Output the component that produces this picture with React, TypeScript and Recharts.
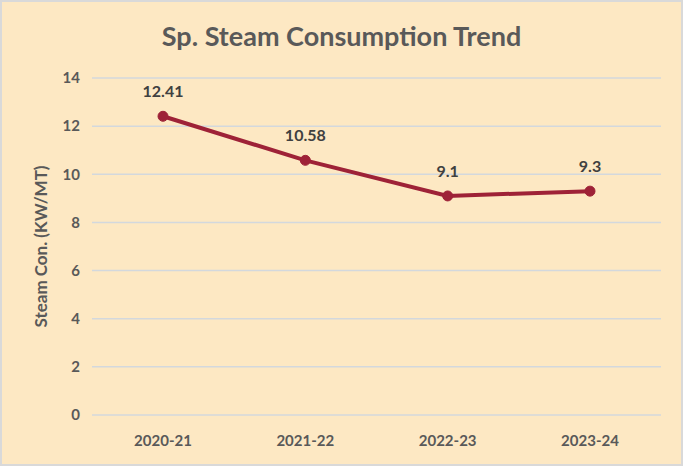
import React from "react";
import { LineChart, Line, XAxis, YAxis, CartesianGrid, LabelList } from "recharts";

// Specific steam consumption per year
const years = ["2020-21", "2021-22", "2022-23", "2023-24"];
const steamCon = [12.41, 10.58, 9.1, 9.3];
const yTicks = [0, 2, 4, 6, 8, 10, 12, 14];

const data = years.map((year, i) => ({ year, value: steamCon[i] }));

const BG = "#fde8c3";
const TEXT = "#595959";
const LINE = "#9e2237";

export default function App() {
  return (
    <div style={{ position: "relative", width: 683, height: 466, background: BG, fontFamily: "Lato, 'Open Sans', sans-serif" }}>
      <style>{"body{margin:0}"}</style>
      <div
        style={{
          position: "absolute",
          top: 19,
          left: 0,
          width: 683,
          textAlign: "center",
          fontSize: 27,
          fontWeight: 700,
          color: TEXT,
        }}
      >
        Sp. Steam Consumption Trend
      </div>
      <LineChart width={683} height={466} data={data} margin={{ top: 78, right: 22, bottom: 0, left: 0 }}>
        <CartesianGrid vertical={false} stroke="#d3d8dd" strokeWidth={1.5} />
        <XAxis
          dataKey="year"
          height={51}
          padding={{ left: 71, right: 71 }}
          axisLine={false}
          tickLine={false}
          tickSize={0}
          tickMargin={20}
          tick={{ fill: TEXT, fontSize: 15, fontWeight: 700 }}
        />
        <YAxis
          width={92}
          domain={[0, 14]}
          ticks={yTicks}
          axisLine={false}
          tickLine={false}
          tickSize={0}
          tickMargin={12}
          tick={{ fill: TEXT, fontSize: 15, fontWeight: 700 }}
          label={{
            value: "Steam Con. (KW/MT)",
            angle: -90,
            position: "insideLeft",
            dx: 36,
            fill: TEXT,
            style: { textAnchor: "middle", fontSize: 17, fontWeight: 700 },
          }}
        />
        <Line
          type="linear"
          dataKey="value"
          stroke={LINE}
          strokeWidth={4}
          dot={{ r: 5, fill: LINE, stroke: LINE, strokeWidth: 1 }}
          isAnimationActive={false}
        >
          <LabelList dataKey="value" position="top" offset={19} fill="#404040" fontSize={16} fontWeight={700} />
        </Line>
      </LineChart>
      <div
        style={{
          position: "absolute",
          inset: 0,
          border: "2px solid #d9d9d9",
          pointerEvents: "none",
        }}
      />
    </div>
  );
}
